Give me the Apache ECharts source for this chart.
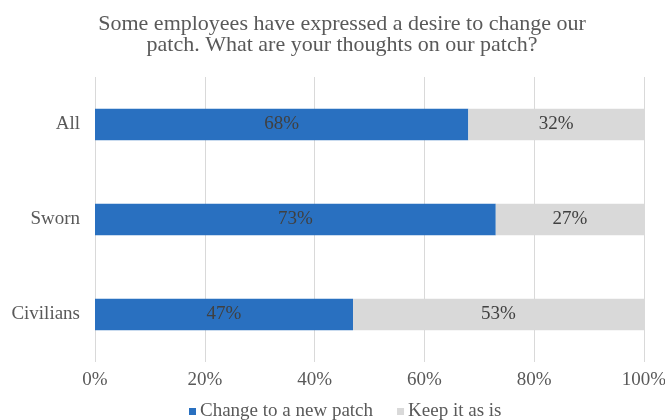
<!DOCTYPE html>
<html><head><meta charset="utf-8">
<script src="https://cdn.jsdelivr.net/npm/echarts@6/dist/echarts.min.js"></script>
<style>html,body{margin:0;padding:0;background:#fff}#c{width:665px;height:420px}</style>
</head><body><div id="c"></div>
<script>
const categories = ['All', 'Sworn', 'Civilians'];
const changeValues = [68, 73, 47];
const keepValues = [32, 27, 53];
const seriesNames = ['Change to a new patch', 'Keep it as is'];
const titleText = 'Some employees have expressed a desire to change our\npatch. What are your thoughts on our patch?';

const font = '"Liberation Serif", "DejaVu Serif", serif';
const chart = echarts.init(document.getElementById('c'));
chart.setOption({
  animation: false,
  title: {
    text: titleText, left: 342, top: 14, textAlign: 'center', padding: 0,
    textStyle: { fontFamily: font, fontSize: 22, fontWeight: 'normal', color: '#595959', lineHeight: 21 }
  },
  legend: {
    top: 402, left: 189, padding: 0, itemWidth: 7, itemHeight: 7, itemGap: 24, icon: 'rect',
    textStyle: { fontFamily: font, fontSize: 19, color: '#595959', padding: [0, 0, 0, -1] },
    data: seriesNames
  },
  grid: { left: 95, right: 21, top: 77, bottom: 58, containLabel: false, outerBoundsMode: 'none' },
  xAxis: {
    type: 'value', min: 0, max: 100, interval: 20,
    axisLine: { show: false }, axisTick: { show: false },
    splitLine: { lineStyle: { color: '#d9d9d9', width: 1 } },
    axisLabel: { formatter: '{value}%', fontFamily: font, fontSize: 19, color: '#595959', margin: 9 }
  },
  yAxis: {
    type: 'category', data: categories, inverse: true,
    axisLine: { show: false }, axisTick: { show: false },
    axisLabel: { fontFamily: font, fontSize: 19, color: '#595959', margin: 15 }
  },
  series: [
    {
      name: seriesNames[0], type: 'bar', stack: 'a', data: changeValues, barWidth: '33%',
      itemStyle: { color: '#2970C0' },
      label: { show: true, position: 'inside', formatter: '{c}%', fontFamily: font, fontSize: 19, color: '#404040' }
    },
    {
      name: seriesNames[1], type: 'bar', stack: 'a', data: keepValues, barWidth: '33%',
      itemStyle: { color: '#D9D9D9' },
      label: { show: true, position: 'inside', formatter: '{c}%', fontFamily: font, fontSize: 19, color: '#404040' }
    }
  ]
});
</script></body></html>
